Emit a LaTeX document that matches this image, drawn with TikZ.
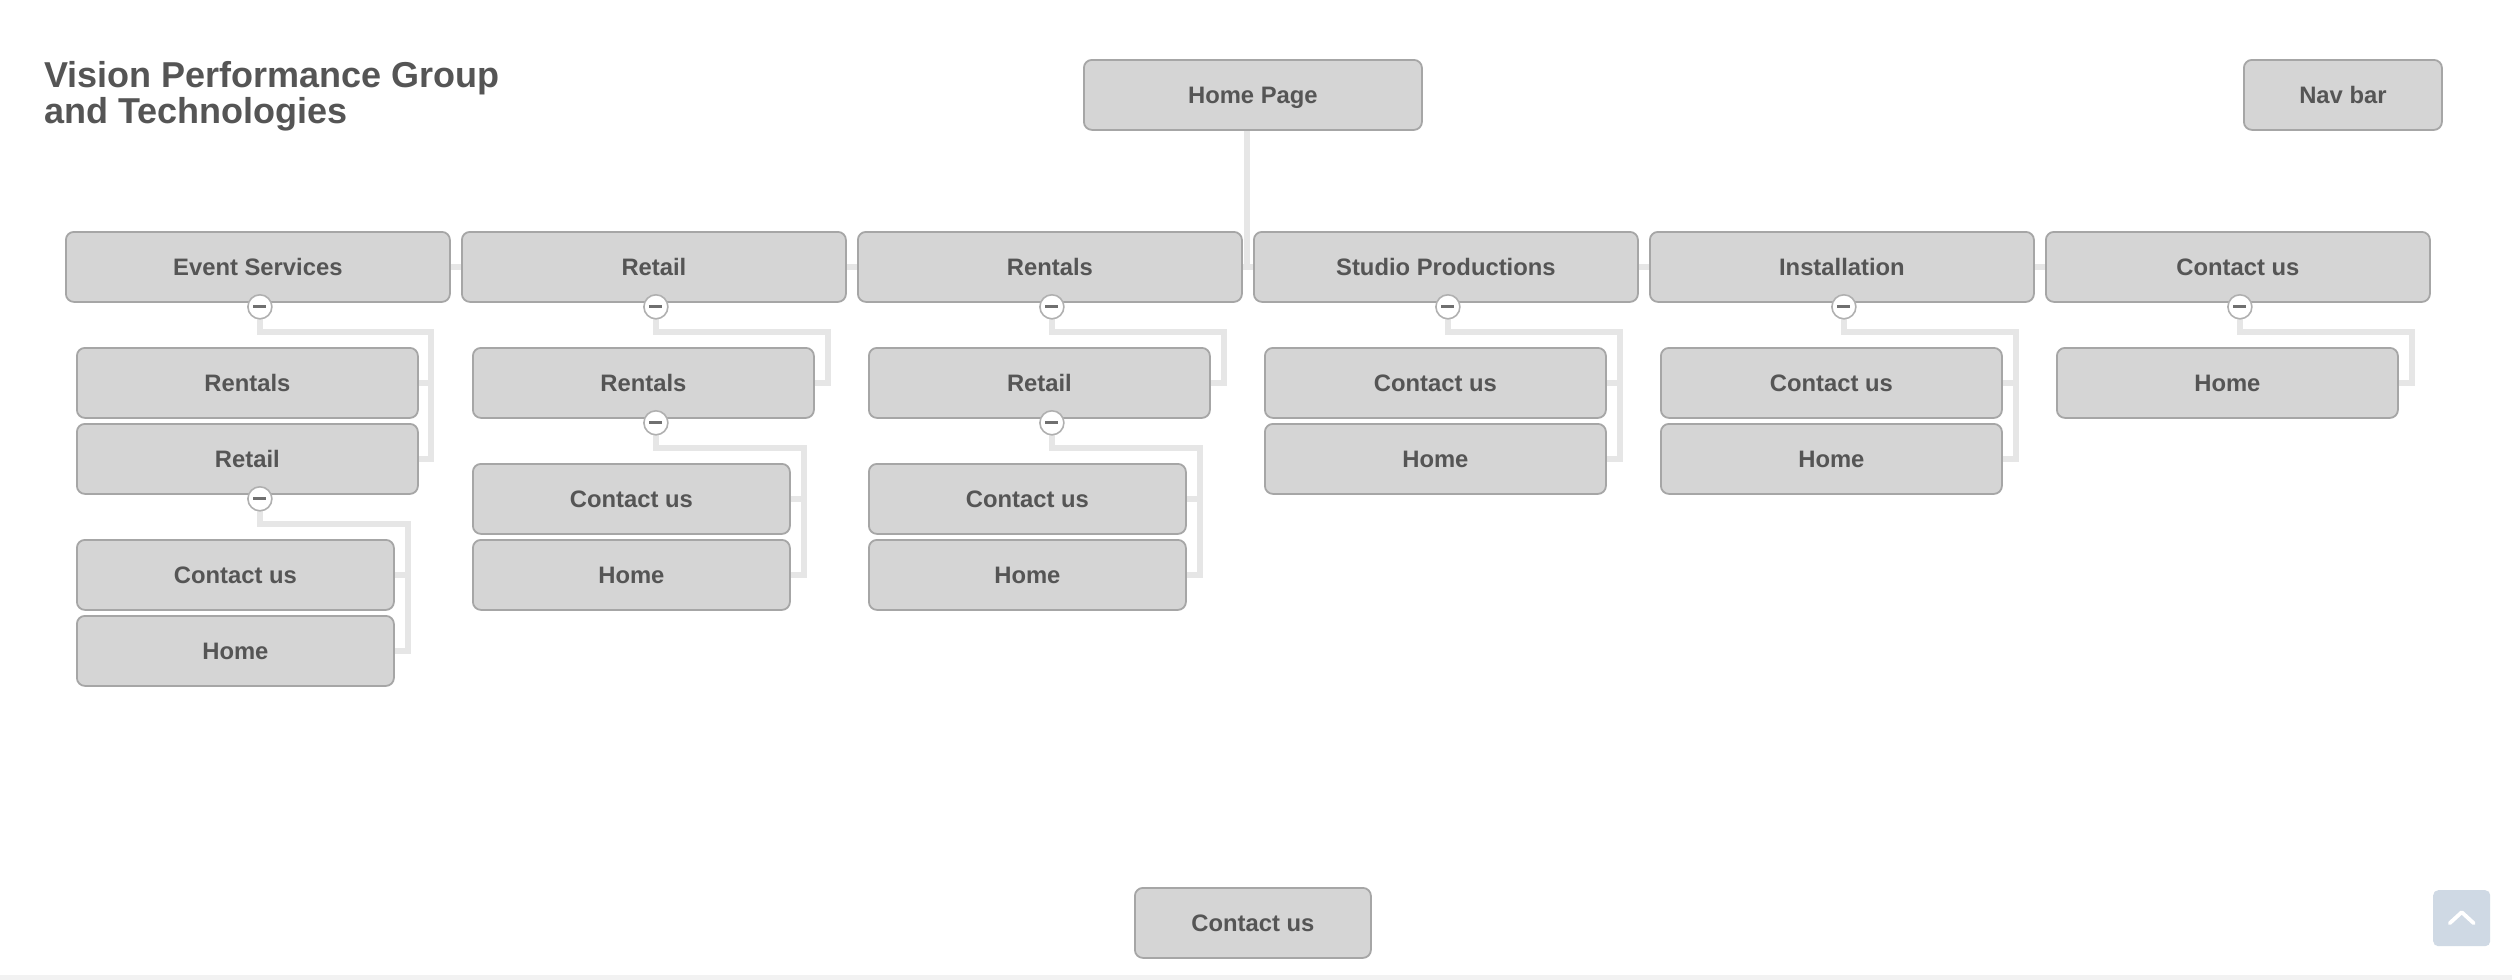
\documentclass[tikz,border=0pt]{standalone}
\usepackage{fontspec}
\setmainfont{Liberation Sans}
\usetikzlibrary{backgrounds}
\definecolor{boxfill}{HTML}{D5D5D5}
\definecolor{boxline}{HTML}{A6A6A6}
\definecolor{txtgray}{HTML}{555555}
\definecolor{conncol}{HTML}{E6E6E6}
\definecolor{togline}{HTML}{B0B0B0}
\definecolor{togminus}{HTML}{707070}
\definecolor{btnfill}{HTML}{CFD9E4}
\definecolor{bandcol}{HTML}{F2F2F2}
\tikzset{
  box/.style={draw=boxline, fill=boxfill, line width=1.8pt, rounded corners=8pt,
    anchor=north west, inner sep=0pt, minimum height=70pt, text=txtgray,
    font=\fontsize{23.8}{28}\selectfont\bfseries, text height=17pt, text depth=0pt},
  wtop/.style={minimum width=384pt},
  wch/.style={minimum width=341pt},
  wgc/.style={minimum width=317pt},
  tog/.style={circle, draw=togline, fill=white, line width=1.6pt, minimum size=24pt, inner sep=0pt,
    path picture={\draw[togminus, line width=3pt] ([xshift=-6.5pt]path picture bounding box.center) -- ([xshift=6.5pt]path picture bounding box.center);}},
  conn/.style={draw=conncol, line width=6pt, line join=miter},
  title/.style={anchor=north west, inner sep=0pt, align=left, text=txtgray,
    font=\fontsize{36}{36}\selectfont\bfseries},
  upbtn/.style={anchor=north west, fill=btnfill, rounded corners=5pt, inner sep=0pt,
    minimum width=57pt, minimum height=56pt}
}
\begin{document}
\begin{tikzpicture}[x=1pt,y=-1pt]
\useasboundingbox (0,0) rectangle (2512,980);

% title
\node[title] (ttl) at (44,61) {Vision Performance Group\\and Technologies};

% top nodes
\node[box, minimum width=338pt] (home) at (1083,59) {Home Page};
\node[box, minimum width=198pt] (nav) at (2243,59) {Nav bar};
\node[box, minimum width=236pt] (bcu) at (1134,887) {Contact us};

% row 1
\node[box, wtop] (es) at (65,231) {Event Services};
\node[box, wtop] (rt) at (461,231) {Retail};
\node[box, wtop] (rn) at (857,231) {Rentals};
\node[box, wtop] (sp) at (1253,231) {Studio Productions};
\node[box, wtop] (in) at (1649,231) {Installation};
\node[box, wtop] (cu) at (2045,231) {Contact us};

% column 1
\node[box, wch] (es1) at (76,347) {Rentals};
\node[box, wch] (es2) at (76,423) {Retail};
\node[box, wgc] (es2a) at (76,539) {Contact us};
\node[box, wgc] (es2b) at (76,615) {Home};
% column 2
\node[box, wch] (rt1) at (472,347) {Rentals};
\node[box, wgc] (rt1a) at (472,463) {Contact us};
\node[box, wgc] (rt1b) at (472,539) {Home};
% column 3
\node[box, wch] (rn1) at (868,347) {Retail};
\node[box, wgc] (rn1a) at (868,463) {Contact us};
\node[box, wgc] (rn1b) at (868,539) {Home};
% column 4
\node[box, wch] (sp1) at (1264,347) {Contact us};
\node[box, wch] (sp2) at (1264,423) {Home};
% column 5
\node[box, wch] (in1) at (1660,347) {Contact us};
\node[box, wch] (in2) at (1660,423) {Home};
% column 6
\node[box, wch] (cu1) at (2056,347) {Home};

% toggles of the first row
\foreach \p in {es,rt,rn,sp,in,cu}{
  \node[tog] (t-\p) at ([shift={(2,4)}]\p.south) {};
}
% toggles of the second level, aligned with the parent's toggle
\node[tog] (t-es2) at ([yshift=-4pt]es2.south -| t-es) {};
\node[tog] (t-rt1) at ([yshift=-4pt]rt1.south -| t-rt) {};
\node[tog] (t-rn1) at ([yshift=-4pt]rn1.south -| t-rn) {};

% scroll-up button
\node[upbtn] (up) at (2433,890) {};
\draw[white, line width=3.8pt, line cap=round, line join=round]
  ([shift={(-12,5)}]up.center) -- ([shift={(0,-6)}]up.center) -- ([shift={(12,5)}]up.center);

\begin{pgfonlayer}{background}
\fill[white] (0,0) rectangle (2512,980);
\fill[bandcol] (0,975) rectangle (2512,980);
\coordinate (hub) at (1247,266);
\draw[conn] (es.center) -- (cu.center);
\draw[conn] (home.south -| hub) -- (hub);
% group connectors
\draw[conn] (t-es.center) -- ++(0,25) -| ([xshift=12pt]es2.east) -- (es2.east);
\draw[conn] (es1.east) -- ++(12,0);
\draw[conn] (t-es2.center) -- ++(0,25) -| ([xshift=13pt]es2b.east) -- (es2b.east);
\draw[conn] (es2a.east) -- ++(13,0);
\draw[conn] (t-rt.center) -- ++(0,25) -| ([xshift=13pt]rt1.east) -- (rt1.east);
\draw[conn] (t-rt1.center) -- ++(0,25) -| ([xshift=13pt]rt1b.east) -- (rt1b.east);
\draw[conn] (rt1a.east) -- ++(13,0);
\draw[conn] (t-rn.center) -- ++(0,25) -| ([xshift=13pt]rn1.east) -- (rn1.east);
\draw[conn] (t-rn1.center) -- ++(0,25) -| ([xshift=13pt]rn1b.east) -- (rn1b.east);
\draw[conn] (rn1a.east) -- ++(13,0);
\draw[conn] (t-sp.center) -- ++(0,25) -| ([xshift=13pt]sp2.east) -- (sp2.east);
\draw[conn] (sp1.east) -- ++(13,0);
\draw[conn] (t-in.center) -- ++(0,25) -| ([xshift=13pt]in2.east) -- (in2.east);
\draw[conn] (in1.east) -- ++(13,0);
\draw[conn] (t-cu.center) -- ++(0,25) -| ([xshift=13pt]cu1.east) -- (cu1.east);
\end{pgfonlayer}
\end{tikzpicture}
\end{document}
